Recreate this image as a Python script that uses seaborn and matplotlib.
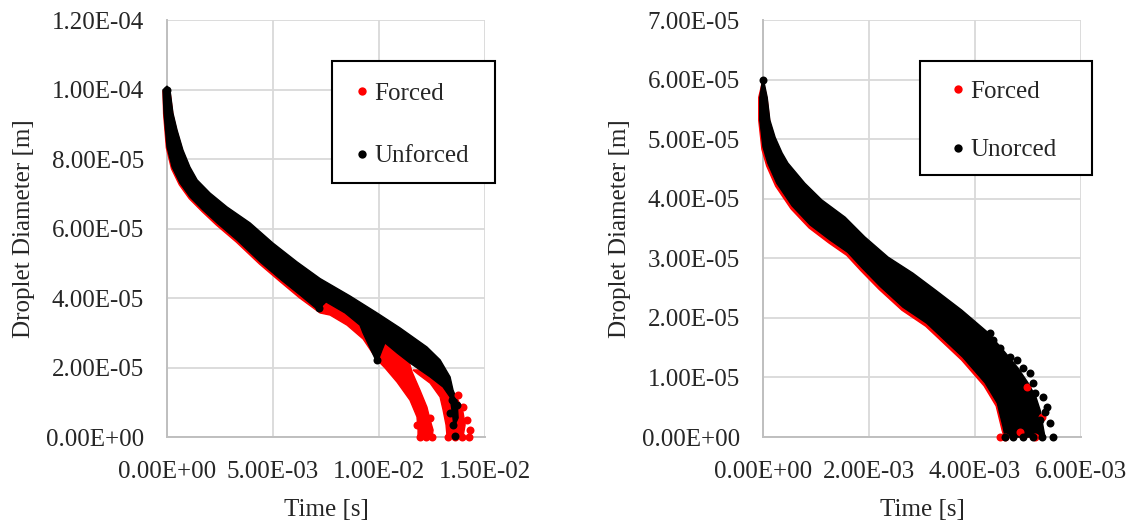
import matplotlib
matplotlib.use("Agg")
import numpy as np
import matplotlib.pyplot as plt
from matplotlib.patches import Rectangle
from matplotlib.lines import Line2D
from matplotlib.ticker import FuncFormatter
import seaborn as sns

# values: time in ms, diameter in um
# left panel, cloud envelope of the unforced droplets (upper/right and lower/left edges)
l_unf_top_t = [0.00, 0.14, 0.28, 0.47, 0.75, 1.08, 1.42, 2.03, 2.83, 3.92, 5.00, 6.13, 7.22, 8.63, 9.91, 10.99, 12.26, 12.88, 13.35, 13.49, 13.68, 13.73]
l_unf_top_d = [101.0, 99.9, 93.2, 88.4, 82.6, 77.7, 74.0, 70.2, 66.2, 61.6, 55.8, 50.4, 45.6, 40.6, 35.7, 31.4, 25.9, 22.2, 17.3, 13.5, 10.6, 5.5]
l_unf_bot_t = [-0.19, -0.14, 0.00, 0.24, 0.61, 1.08, 1.70, 2.36, 3.30, 4.39, 5.33, 6.27, 7.12, 7.50, 8.40, 9.10, 9.25, 9.91, 10.14, 10.28, 10.85, 11.46, 12.41, 13.02, 13.35, 13.44, 13.54]
l_unf_bot_d = [99.9, 93.2, 83.5, 77.7, 73.1, 69.1, 65.3, 61.6, 56.7, 50.4, 45.5, 40.9, 36.6, 38.9, 35.7, 32.2, 29.9, 21.3, 25.0, 27.1, 24.2, 21.3, 17.3, 14.4, 11.5, 7.8, 2.9]
l_unf_dot_t = [0.0, 7.17, 9.91, 13.35, 13.49, 13.59, 13.44, 13.68]
l_unf_dot_d = [100.0, 37.1, 22.2, 6.9, 3.5, 0.3, 10.6, 9.2]

# left panel, forced droplets: main body with first tail, second tail, loose dots
l_frc_top_t = [0.00, 0.14, 0.28, 0.47, 0.75, 1.08, 1.42, 2.03, 2.83, 3.92, 5.00, 6.13, 7.22, 8.63, 9.91, 10.99, 11.56, 11.93, 12.26, 12.41, 12.55, 12.50]
l_frc_top_d = [100.0, 99.4, 92.7, 87.9, 82.1, 77.2, 73.5, 69.7, 65.7, 61.1, 55.3, 49.9, 45.3, 40.1, 35.2, 30.5, 18.7, 13.5, 8.6, 4.9, 2.0, 0.0]
l_frc_bot_t = [-0.19, -0.16, -0.03, 0.21, 0.58, 1.05, 1.67, 2.33, 3.27, 4.36, 5.30, 6.24, 7.22, 7.69, 8.49, 9.25, 9.91, 10.28, 10.85, 11.46, 11.79, 11.84, 11.84]
l_frc_bot_d = [99.6, 93.0, 83.2, 77.2, 72.6, 68.6, 64.8, 61.0, 56.1, 49.8, 44.9, 40.1, 35.7, 35.1, 32.2, 28.2, 22.2, 19.9, 15.8, 10.6, 5.8, 2.0, 0.0]
l_frc_tail_t = [11.60, 12.17, 12.88, 13.44, 13.73, 13.96, 14.06, 13.96, 13.21, 13.16, 13.02, 12.88, 12.41, 11.84]
l_frc_tail_d = [19.3, 19.3, 16.4, 13.5, 10.6, 7.2, 3.5, 0.0, 0.0, 3.5, 7.8, 11.5, 15.5, 18.1]
l_frc_dot_t = [11.93, 12.22, 12.50, 11.79, 12.41, 13.25, 13.59, 13.92, 14.25, 14.15, 13.96, 13.73, 14.29]
l_frc_dot_d = [0.0, 0.0, 0.0, 3.5, 5.5, 0.0, 0.0, 0.0, 0.0, 4.9, 8.6, 12.1, 2.0]

# right panel
r_unf_top_t = [0.00, 0.08, 0.13, 0.23, 0.36, 0.47, 0.79, 1.11, 1.55, 1.92, 2.36, 2.83, 3.25, 3.75, 4.25, 4.53, 4.81, 5.00, 5.15, 5.23, 5.28, 5.32]
r_unf_top_d = [60.4, 57.0, 53.2, 50.3, 47.7, 46.0, 42.6, 39.8, 36.9, 33.6, 30.2, 27.5, 24.7, 21.3, 17.5, 14.6, 11.6, 9.1, 6.7, 4.5, 2.0, 0.0]
r_unf_bot_t = [-0.06, -0.06, 0.00, 0.09, 0.26, 0.55, 0.89, 1.26, 1.60, 1.87, 2.21, 2.64, 3.09, 3.77, 4.19, 4.42, 4.53, 4.57]
r_unf_bot_d = [57.0, 53.2, 48.7, 46.0, 42.6, 38.8, 35.6, 33.1, 31.0, 28.4, 25.3, 21.8, 19.1, 13.4, 9.1, 5.7, 1.7, 0.0]
r_unf_dot_t = [0.0, 4.28, 4.34, 4.47, 4.66, 4.79, 4.91, 5.04, 5.09, 5.13, 5.28, 5.36, 5.42, 5.47, 4.57, 4.72, 4.91, 5.09, 5.26, 5.23, 5.04, 5.32]
r_unf_dot_d = [60.0, 17.5, 16.3, 14.9, 13.4, 12.9, 11.6, 10.7, 9.1, 7.4, 6.7, 5.0, 2.3, 0.0, 0.0, 0.0, 0.0, 0.0, 0.0, 2.9, 1.5, 4.2]

r_frc_top_t = [0.00, 0.08, 0.13, 0.23, 0.36, 0.47, 0.79, 1.11, 1.55, 1.92, 2.36, 2.83, 3.25, 3.75, 4.25, 4.81, 5.15, 5.20]
r_frc_top_d = [60.0, 56.6, 52.8, 49.9, 47.3, 45.6, 42.2, 39.4, 36.5, 33.2, 29.8, 27.1, 24.3, 20.9, 17.1, 11.2, 6.3, 0.0]
r_frc_bot_t = [-0.08, -0.08, -0.02, 0.07, 0.24, 0.53, 0.87, 1.24, 1.58, 1.85, 2.19, 2.62, 3.07, 3.75, 4.17, 4.40, 4.51, 4.55]
r_frc_bot_d = [57.0, 53.2, 48.3, 45.5, 42.1, 38.3, 35.1, 32.6, 30.5, 27.9, 24.8, 21.3, 18.6, 12.9, 8.6, 5.2, 1.2, 0.0]
r_frc_dot_t = [4.47, 4.57, 4.85, 4.98, 5.26, 5.13]
r_frc_dot_d = [0.0, 0.0, 0.8, 8.4, 3.4, 0.0]

left_xticks = [0, 5e-3, 1e-2, 1.5e-2]
left_yticks = [0, 2e-5, 4e-5, 6e-5, 8e-5, 1e-4, 1.2e-4]
right_xticks = [0, 2e-3, 4e-3, 6e-3]
right_yticks = [0, 1e-5, 2e-5, 3e-5, 4e-5, 5e-5, 6e-5, 7e-5]
legend_left = ["Forced", "Unforced"]
legend_right = ["Forced", "Unorced"]

RED = "#FF0000"
BLK = "#000000"

sns.set_style("white")
plt.rcParams["font.family"] = ["Liberation Serif", "DejaVu Serif"]
plt.rcParams["font.size"] = 18


def band(ax, top_t, top_d, bot_t, bot_d, color):
    t = np.r_[top_t, bot_t[::-1]] * 1e-3
    d = np.r_[top_d, bot_d[::-1]] * 1e-6
    ax.fill(t, d, color=color, lw=1, clip_on=False, zorder=3)


def outline(ax, t, d, color):
    ax.fill(np.array(t) * 1e-3, np.array(d) * 1e-6, color=color, lw=1, clip_on=False, zorder=3)


def dots(ax, t, d, color):
    sns.scatterplot(x=np.array(t) * 1e-3, y=np.array(d) * 1e-6, ax=ax, color=color,
                    s=33, linewidth=0, clip_on=False, zorder=4)


def style(ax, xticks, yticks):
    ax.set_xlim(xticks[0], xticks[-1])
    ax.set_ylim(yticks[0], yticks[-1])
    ax.set_xticks(xticks)
    ax.set_yticks(yticks)
    fmt = FuncFormatter(lambda v, p: f"{v:.2E}")
    ax.xaxis.set_major_formatter(fmt)
    ax.yaxis.set_major_formatter(fmt)
    ax.grid(True, color="#D9D9D9", lw=1.3, zorder=0)
    ax.set_axisbelow(True)
    for s in ["top", "right"]:
        ax.spines[s].set_visible(False)
    for s in ["left", "bottom"]:
        ax.spines[s].set_color("#BFBFBF")
        ax.spines[s].set_linewidth(1.4)
        ax.spines[s].set_zorder(1)
    ax.tick_params(axis="y", length=0, pad=16.5, labelsize=18)
    ax.tick_params(axis="x", length=0, pad=17, labelsize=18)
    ax.set_xlabel("Time [s]", fontsize=18, labelpad=12)
    ax.set_ylabel("Droplet Diameter [m]", fontsize=18, labelpad=8)


def legend(ax, labels, box, anchor, spacing):
    ax.add_patch(Rectangle(box[:2], box[2], box[3], transform=ax.transAxes, facecolor="white",
                           edgecolor="black", lw=1.5, clip_on=False, zorder=6))
    handles = [Line2D([], [], ls="none", marker="o", ms=6, color=c, mew=0) for c in (RED, BLK)]
    leg = ax.legend(handles, labels, loc="upper left", bbox_to_anchor=anchor, frameon=False,
                    borderpad=0, borderaxespad=0, handlelength=0.8, handletextpad=0.1,
                    labelspacing=spacing, fontsize=18)
    leg.set_zorder(7)


fig = plt.figure(figsize=(11.33, 5.23), dpi=100)
ax1 = fig.add_axes([0.1474, 0.1644, 0.2807, 0.7973])
ax2 = fig.add_axes([0.6734, 0.1644, 0.2807, 0.7973])

# forced first, unforced on top
band(ax1, np.array(l_frc_top_t), np.array(l_frc_top_d), np.array(l_frc_bot_t), np.array(l_frc_bot_d), RED)
outline(ax1, l_frc_tail_t, l_frc_tail_d, RED)
dots(ax1, l_frc_dot_t, l_frc_dot_d, RED)
band(ax1, np.array(l_unf_top_t), np.array(l_unf_top_d), np.array(l_unf_bot_t), np.array(l_unf_bot_d), BLK)
dots(ax1, l_unf_dot_t, l_unf_dot_d, BLK)
style(ax1, left_xticks, left_yticks)
legend(ax1, legend_left, (0.5189, 0.6091, 0.5126, 0.2926), (0.5818, 0.8513), 1.61)

band(ax2, np.array(r_frc_top_t), np.array(r_frc_top_d), np.array(r_frc_bot_t), np.array(r_frc_bot_d), RED)
dots(ax2, r_frc_dot_t, r_frc_dot_d, RED)
band(ax2, np.array(r_unf_top_t), np.array(r_unf_top_d), np.array(r_unf_bot_t), np.array(r_unf_bot_d), BLK)
dots(ax2, r_unf_dot_t, r_unf_dot_d, BLK)
style(ax2, right_xticks, right_yticks)
legend(ax2, legend_right, (0.4937, 0.6283, 0.5409, 0.2734), (0.5818, 0.856), 1.45)

fig.savefig("out.png", dpi=100)
